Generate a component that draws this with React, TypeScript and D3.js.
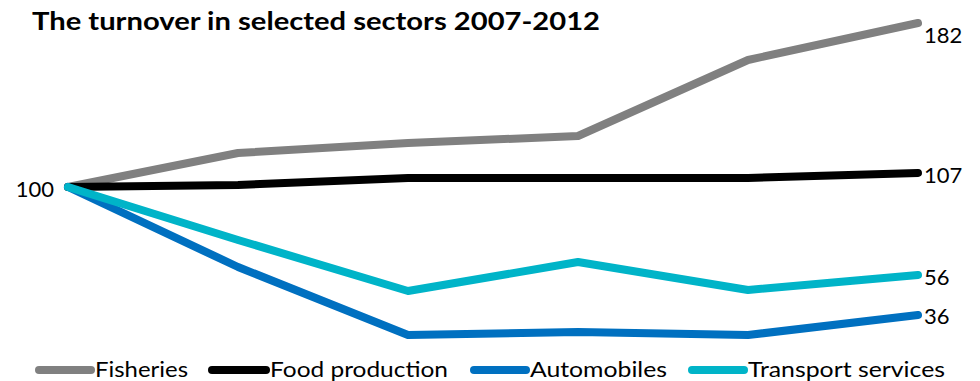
import React from "react";
import * as d3 from "d3";

const years = ["2007", "2008", "2009", "2010", "2011", "2012"];
const seriesNames = ["Fisheries", "Food production", "Automobiles", "Transport services"];
const fisheries = [100, 117, 122, 125.5, 163.5, 182];
const foodProduction = [100, 101, 104.5, 104.5, 104.5, 107];
const automobiles = [100, 60, 26, 27.5, 26, 36];
const transportServices = [100, 73.5, 48, 62.5, 48.5, 56];
const endLabels = ["182", "107", "36", "56"];
const startLabel = "100";
const colors = ["#808080", "#000000", "#0070C0", "#00B4C8"];

const W = 980;
const H = 381;
const FONT = "Lato, 'Open Sans', sans-serif";

export default function App() {
  const data = [fisheries, foodProduction, automobiles, transportServices];
  const x = d3.scalePoint<string>().domain(years).range([68, 918]);
  const y = d3.scaleLinear().domain([100, 182]).range([187, 23]);
  const line = d3
    .line<number>()
    .x((_, i) => x(years[i]) as number)
    .y((d) => y(d));

  const labelDy = [20, 10, 9, 10];
  const legendSwatch = [35, 208, 470, 688];
  const legendText = [95, 270, 530, 748];
  const legendWidths = [93, 178, 137, 197];

  return (
    <svg
      width={W}
      height={H}
      style={{ position: "absolute", left: 0, top: 0, background: "#fff" }}
      fontFamily={FONT}
    >
      <text
        x={32}
        y={30}
        fontSize={25}
        fontWeight="bold"
        textLength={568}
        lengthAdjust="spacingAndGlyphs"
        fill="#000"
      >
        The turnover in selected sectors 2007-2012
      </text>
      {data.map((s, i) => (
        <path
          key={seriesNames[i]}
          d={line(s) || ""}
          fill="none"
          stroke={colors[i]}
          strokeWidth={8}
          strokeLinecap="round"
          strokeLinejoin="round"
        />
      ))}
      <text
        x={x(years[0])! - 14}
        y={y(data[0][0]) + 10}
        fontSize={22}
        textAnchor="end"
        fill="#000"
      >
        {startLabel}
      </text>
      {data.map((s, i) => (
        <text
          key={"end" + i}
          x={(x(years[years.length - 1]) as number) + 6}
          y={y(s[s.length - 1]) + labelDy[i]}
          fontSize={22}
          fill="#000"
        >
          {endLabels[i]}
        </text>
      ))}
      {seriesNames.map((n, i) => (
        <g key={"leg" + i}>
          <line
            x1={legendSwatch[i] + 4}
            x2={legendText[i] - 4}
            y1={370}
            y2={370}
            stroke={colors[i]}
            strokeWidth={8}
            strokeLinecap="round"
          />
          <text
            x={legendText[i]}
            y={377}
            fontSize={22}
            textLength={legendWidths[i]}
            lengthAdjust="spacingAndGlyphs"
            fill="#000"
          >
            {n}
          </text>
        </g>
      ))}
    </svg>
  );
}
